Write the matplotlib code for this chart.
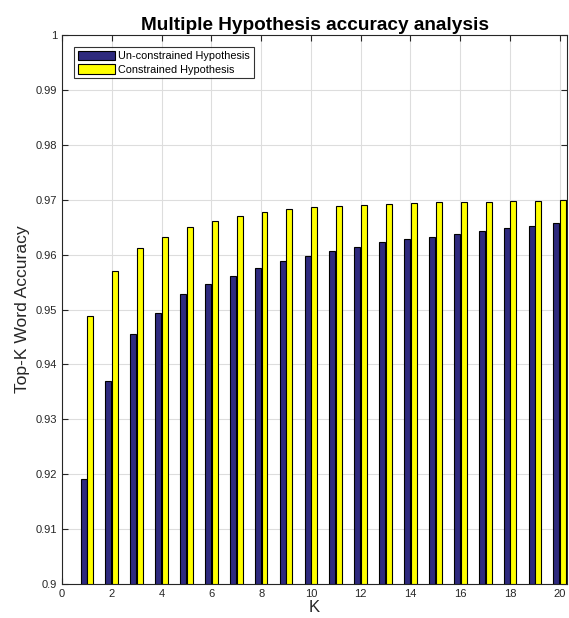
import numpy as np
import matplotlib
matplotlib.use('Agg')
import matplotlib.pyplot as plt
from matplotlib.ticker import FuncFormatter

# Data
K = np.arange(1, 21)
unconstrained = [0.9191, 0.9370, 0.9456, 0.9494, 0.9528, 0.9546, 0.9562, 0.9576,
                 0.9589, 0.9598, 0.9607, 0.9615, 0.9623, 0.9628, 0.9633, 0.9638,
                 0.9644, 0.9648, 0.9653, 0.9658]
constrained = [0.9489, 0.9571, 0.9612, 0.9632, 0.9650, 0.9662, 0.9671, 0.9677,
               0.9683, 0.9687, 0.9689, 0.9691, 0.9693, 0.9695, 0.9696, 0.9697,
               0.9697, 0.9698, 0.9698, 0.9699]

plt.rcParams['font.family'] = ['Liberation Sans', 'DejaVu Sans']

fig = plt.figure(figsize=(5.69, 6.18), dpi=100)
ax = fig.add_axes([0.109, 0.055, 0.888, 0.888])

w = 0.24
ax.bar(K - 0.135, np.array(unconstrained) - 0.9, w, bottom=0.9, color='#2E2A7E',
       edgecolor='black', linewidth=0.8, label='Un-constrained Hypothesis', zorder=3)
ax.bar(K + 0.135, np.array(constrained) - 0.9, w, bottom=0.9, color='#FFFF00',
       edgecolor='black', linewidth=0.8, label='Constrained Hypothesis', zorder=3)

ax.set_xlim(0, 20.3)
ax.set_ylim(0.9, 1.0)
ax.set_xticks(np.arange(0, 21, 2))
ax.set_yticks(np.arange(0.9, 1.0001, 0.01))
ax.yaxis.set_major_formatter(FuncFormatter(lambda v, p: '%g' % round(v, 2)))
ax.grid(True, color='#DDDDDD', linewidth=0.8, zorder=0)
ax.tick_params(direction='in', top=True, right=True, labelsize=8, colors='#262626',
               length=4, width=0.8)
for s in ax.spines.values():
    s.set_linewidth(0.8)
    s.set_color('#262626')

ax.set_title('Multiple Hypothesis accuracy analysis', fontsize=13.7, fontweight='bold', pad=4)
ax.set_xlabel('K', fontsize=12, labelpad=1, color='#262626')
ax.set_ylabel('Top-K Word Accuracy', fontsize=12.6, labelpad=4, color='#262626')

leg = ax.legend(loc='upper left', bbox_to_anchor=(0.024, 0.978), fontsize=7.8, frameon=True,
                fancybox=False, edgecolor='black', borderpad=0.35, labelspacing=0.25,
                handlelength=3.4, handleheight=0.95, handletextpad=0.3, borderaxespad=0)
leg.get_frame().set_linewidth(0.8)

plt.savefig('out.png', dpi=100)
